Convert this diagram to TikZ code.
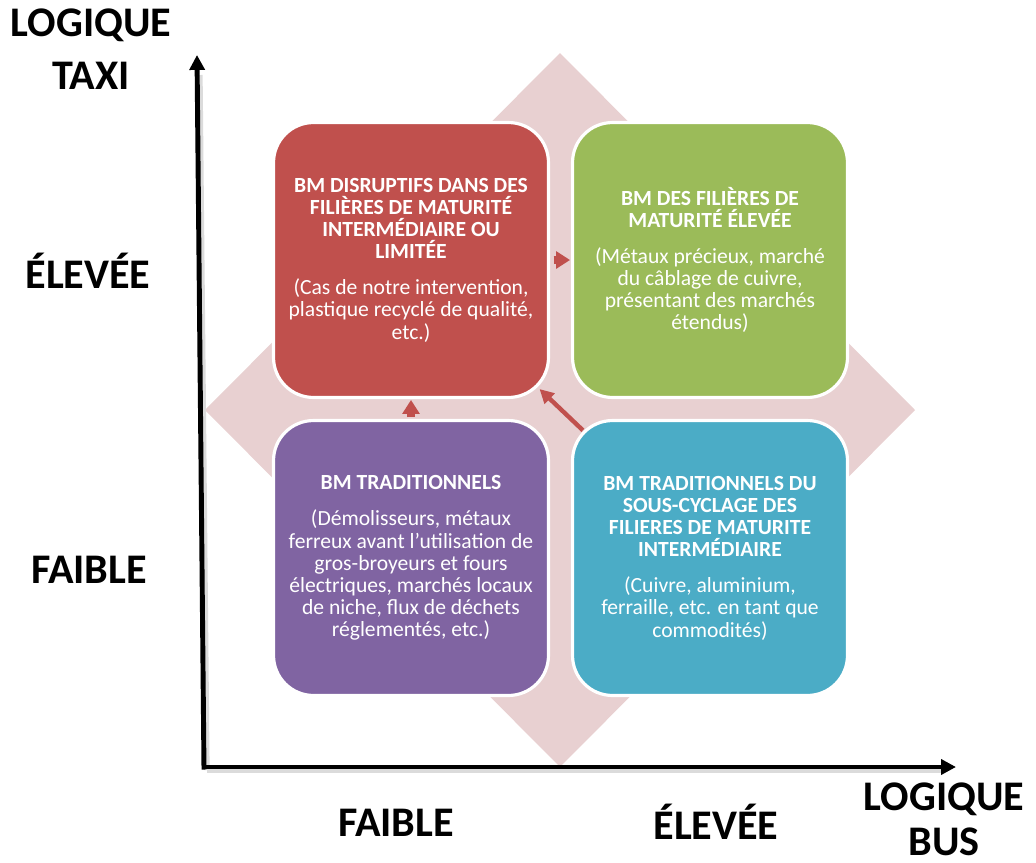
\documentclass[tikz,border=0pt]{standalone}
\usepackage{fontspec}
\setmainfont{Carlito}
\usetikzlibrary{arrows.meta,calc}
\definecolor{cred}{RGB}{192,80,77}
\definecolor{cgreen}{RGB}{155,187,89}
\definecolor{cpurple}{RGB}{128,100,162}
\definecolor{cteal}{RGB}{75,172,198}
\definecolor{cpink}{RGB}{232,208,209}
\tikzset{
  quad/.style={draw=white, line width=1.8pt, rounded corners=0.8cm,
    minimum width=5.5cm, minimum height=5.5cm, text=white, align=center,
    font=\fontsize{12.3}{12.6}\selectfont, inner sep=0pt},
  axislabel/.style={font=\bfseries\fontsize{24}{28}\selectfont, align=center},
  axisline/.style={line width=2.8pt, -{Triangle[length=8.5pt,width=8.5pt]}},
  axisshadow/.style={line width=3pt, draw=black!14},
  blockarrow/.style={draw=cred, line width=4pt, -{Triangle[length=8pt,width=9.6pt]}},
  diagarrow/.style={draw=cred, line width=2.5pt, -{Triangle[length=8pt,width=8pt]}},
}
\newcommand{\ttl}[1]{{\bfseries #1}}
\begin{document}
\begin{tikzpicture}[x=0.02cm,y=-0.02cm]
\useasboundingbox (0,0) rectangle (1036,863);
% diamond background
\fill[cpink] (560,53) -- (915,410) -- (560,767) -- (205,410) -- cycle;
% axes
\coordinate (origin) at (204,767);
\coordinate (ytip) at (197,55);
\coordinate (xtip) at (956,767);
\draw[axisshadow] ($(origin)+(3,3)$) -- ($(ytip)+(3,20)$);
\draw[axisshadow] ($(origin)+(3,3)$) -- ($(xtip)+(-14,3)$);
\draw[axisline] ($(origin)+(0,2.5)$) -- (ytip);
\draw[axisline] ($(origin)+(-2.5,0)$) -- (xtip);
% quadrants
\node[quad, fill=cred] (red) at (411,260) {\ttl{BM DISRUPTIFS DANS DES}\\\ttl{FILIÈRES DE MATURITÉ}\\\ttl{INTERMÉDIAIRE OU}\\\ttl{LIMITÉE}\\[8pt](Cas de notre intervention,\\plastique recyclé de qualité,\\etc.)};
\node[quad, fill=cgreen] (green) at (710,260) {\ttl{BM DES FILIÈRES DE}\\\ttl{MATURITÉ ÉLEVÉE}\\[8pt](Métaux précieux, marché\\du câblage de cuivre,\\présentant des marchés\\étendus)};
\node[quad, fill=cpurple] (purple) at (411,558) {\ttl{BM TRADITIONNELS}\\[8pt](Démolisseurs, métaux\\ferreux avant l’utilisation de\\gros-broyeurs et fours\\électriques, marchés locaux\\de niche, flux de déchets\\réglementés, etc.)};
\node[quad, fill=cteal] (teal) at (710,558) {\ttl{BM TRADITIONNELS DU}\\\ttl{SOUS-CYCLAGE DES}\\\ttl{FILIERES DE MATURITE}\\\ttl{INTERMÉDIAIRE}\\[8pt](Cuivre, aluminium,\\ferraille, etc. en tant que\\commodités)};
% arrows
\draw[blockarrow, shorten <=2pt, shorten >=0.5pt] (red.east) -- (green.west);
\draw[blockarrow, shorten <=1pt, shorten >=0.5pt] (purple.north) -- (red.south);
\draw[diagarrow, shorten <=-0.33cm, shorten >=-0.29cm] (teal.north west) -- (red.south east);
% axis labels
\node[axislabel, font=\bfseries\fontsize{24}{30}\selectfont] (ytitle) at (91,49) {LOGIQUE\\TAXI};
\node[axislabel] (yhigh) at (88,271) {ÉLEVÉE};
\node[axislabel] (ylow) at (89,570) {FAIBLE};
\node[axislabel] (xlow) at (396,823) {FAIBLE};
\node[axislabel] (xhigh) at (716,822) {ÉLEVÉE};
\node[axislabel, font=\bfseries\fontsize{24}{25.5}\selectfont, inner sep=1pt] (xtitle) at (944,819) {LOGIQUE\\BUS};
\end{tikzpicture}
\end{document}
